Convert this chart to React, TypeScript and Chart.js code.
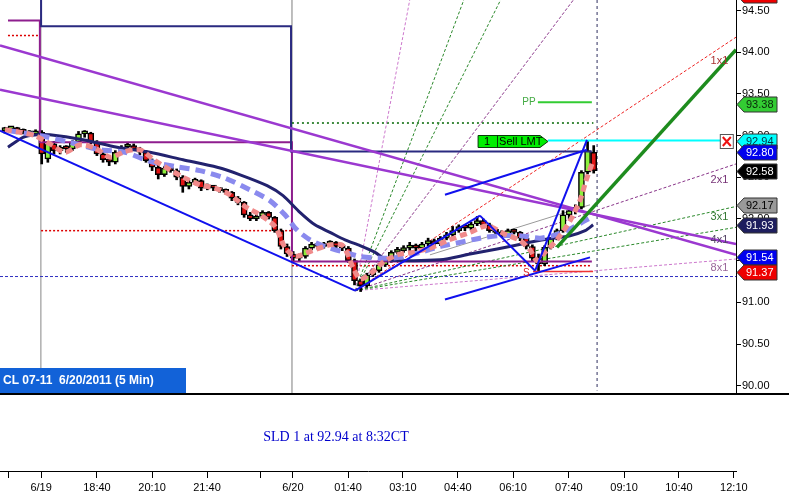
import React, { useEffect, useRef } from 'react';
import { Chart, registerables } from 'chart.js';

Chart.register(...registerables);

// ---------------- data ----------------
const chartTitle = 'CL 07-11  6/20/2011 (5 Min)';
const tradeNote = 'SLD 1 at 92.94 at 8:32CT';

const FIRST_BAR = 1.6;
const BAR_STEP = 2;

const opens = [
  93.06, 93.08, 93.09, 93.06, 93.04, 93.02, 93.04, 92.72, 92.90, 92.82,
  92.86, 92.84, 92.92, 93.02, 93.03, 92.92, 92.78, 92.71, 92.68, 92.80,
  92.86, 92.88, 92.84, 92.80, 92.70, 92.62, 92.53, 92.61, 92.58, 92.50,
  92.39, 92.44, 92.46, 92.37, 92.39, 92.37, 92.34, 92.32, 92.25, 92.20,
  92.05, 92.00, 92.03, 92.08, 92.02, 91.86, 91.67, 91.58, 91.53, 91.55,
  91.65, 91.70, 91.67, 91.70, 91.72, 91.67, 91.65, 91.50, 91.26, 91.20,
  91.33, 91.38, 91.45, 91.50, 91.60, 91.62, 91.65, 91.67, 91.65, 91.70,
  91.74, 91.70, 91.77, 91.81, 91.86, 91.91, 91.89, 91.94, 91.98, 91.93,
  91.86, 91.84, 91.81, 91.86, 91.84, 91.77, 91.67, 91.53, 91.46, 91.66,
  91.77, 91.86, 92.05, 92.10, 92.14, 92.56, 92.80,
];
const highs = [
  93.10, 93.11, 93.10, 93.08, 93.06, 93.07, 93.06, 92.93, 92.93, 92.88,
  92.88, 92.94, 93.05, 93.06, 93.04, 92.94, 92.80, 92.73, 92.82, 92.88,
  92.92, 92.90, 92.86, 92.82, 92.72, 92.66, 92.63, 92.63, 92.60, 92.52,
  92.46, 92.49, 92.47, 92.42, 92.40, 92.38, 92.36, 92.33, 92.27, 92.21,
  92.08, 92.05, 92.10, 92.09, 92.03, 91.88, 91.70, 91.61, 91.58, 91.67,
  91.72, 91.72, 91.72, 91.74, 91.73, 91.70, 91.67, 91.52, 91.28, 91.35,
  91.40, 91.47, 91.53, 91.62, 91.66, 91.68, 91.72, 91.70, 91.72, 91.77,
  91.76, 91.79, 91.84, 91.91, 91.93, 91.93, 91.96, 92.03, 92.00, 91.95,
  91.88, 91.86, 91.88, 91.88, 91.85, 91.79, 91.69, 91.58, 91.68, 91.78,
  91.88, 92.10, 92.14, 92.17, 92.58, 92.94, 92.88,
];
const lows = [
  93.03, 93.05, 93.04, 93.02, 93.00, 93.00, 92.66, 92.68, 92.78, 92.78,
  92.80, 92.82, 92.90, 92.98, 92.90, 92.76, 92.68, 92.64, 92.66, 92.78,
  92.84, 92.82, 92.77, 92.68, 92.58, 92.48, 92.51, 92.56, 92.47, 92.32,
  92.36, 92.42, 92.34, 92.35, 92.34, 92.32, 92.30, 92.22, 92.17, 92.02,
  91.98, 91.98, 92.01, 92.00, 91.84, 91.64, 91.55, 91.50, 91.50, 91.53,
  91.63, 91.64, 91.65, 91.68, 91.65, 91.62, 91.48, 91.21, 91.13, 91.18,
  91.31, 91.36, 91.43, 91.48, 91.58, 91.60, 91.62, 91.62, 91.63, 91.68,
  91.67, 91.68, 91.75, 91.79, 91.84, 91.86, 91.87, 91.92, 91.91, 91.84,
  91.81, 91.79, 91.79, 91.82, 91.74, 91.64, 91.50, 91.38, 91.44, 91.64,
  91.75, 91.84, 92.00, 92.06, 92.12, 92.54, 92.55,
];
const closes = [
  93.08, 93.09, 93.06, 93.04, 93.02, 93.05, 92.78, 92.90, 92.82, 92.86,
  92.84, 92.92, 93.02, 93.03, 92.92, 92.78, 92.71, 92.68, 92.80, 92.86,
  92.88, 92.84, 92.80, 92.70, 92.62, 92.53, 92.61, 92.58, 92.50, 92.39,
  92.44, 92.46, 92.37, 92.39, 92.37, 92.34, 92.32, 92.25, 92.20, 92.05,
  92.00, 92.03, 92.08, 92.02, 91.86, 91.67, 91.58, 91.53, 91.55, 91.65,
  91.70, 91.67, 91.70, 91.72, 91.67, 91.65, 91.50, 91.26, 91.20, 91.33,
  91.38, 91.45, 91.50, 91.60, 91.62, 91.65, 91.67, 91.65, 91.70, 91.74,
  91.70, 91.77, 91.81, 91.86, 91.91, 91.89, 91.94, 91.98, 91.93, 91.86,
  91.84, 91.81, 91.86, 91.84, 91.77, 91.67, 91.53, 91.46, 91.66, 91.77,
  91.86, 92.05, 92.10, 92.14, 92.56, 92.82, 92.58,
];

// moving averages: [bar, price]
const fastMA: [number, number][] = [
  [1.6, 93.07], [6.5, 93.04], [11.4, 93.0], [16.3, 92.9], [21.2, 92.8], [26.1, 92.89],
  [31.0, 92.85], [35.9, 92.74], [40.8, 92.81], [45.7, 92.83], [50.5, 92.7], [55.4, 92.59],
  [60.3, 92.49], [65.2, 92.41], [70.1, 92.37], [75.0, 92.29], [79.9, 92.15], [84.8, 92.05],
  [89.7, 91.91], [92.9, 91.66], [96.2, 91.55], [101.1, 91.61], [107.6, 91.69], [111.8, 91.68],
  [115.1, 91.42], [117.4, 91.28], [120.7, 91.34], [124.9, 91.48], [129.5, 91.57], [134.7, 91.6],
  [140.2, 91.65], [145.8, 91.74], [153.3, 91.84], [158.8, 91.92], [164.0, 91.83], [169.6, 91.74],
  [172.8, 91.63], [175.1, 91.5], [177.7, 91.6], [181.6, 91.75], [185.9, 91.98], [189.1, 92.22],
  [191.1, 92.46], [193.4, 92.7],
];
const midMA: [number, number][] = [
  [2.6, 93.06], [13.0, 93.0], [22.8, 92.92], [32.6, 92.83], [40.8, 92.8], [48.9, 92.69],
  [57.1, 92.63], [65.2, 92.58], [73.4, 92.49], [81.5, 92.35], [88.0, 92.22], [92.9, 92.05],
  [96.8, 91.87], [101.1, 91.75], [106.0, 91.67], [112.5, 91.6], [117.4, 91.55], [123.9, 91.53],
  [130.4, 91.54], [137.0, 91.6], [143.5, 91.67], [150.0, 91.72], [156.5, 91.77], [163.0, 91.8],
  [169.6, 91.8], [176.1, 91.77], [181.0, 91.81], [185.9, 91.88], [190.8, 91.98], [193.4, 92.03],
];
const slowMA: [number, number][] = [
  [2.6, 92.86], [7.5, 92.98], [12.1, 93.01], [16.3, 93.01], [27.1, 92.95], [38.2, 92.86],
  [48.9, 92.8], [59.7, 92.71], [70.8, 92.62], [78.3, 92.53], [87.1, 92.4], [92.3, 92.28],
  [97.8, 92.08], [102.7, 91.93], [107.6, 91.84], [112.5, 91.75], [117.4, 91.68], [122.3, 91.6],
  [126.2, 91.51], [143.5, 91.51], [153.3, 91.58], [162.1, 91.64], [172.8, 91.72], [178.4, 91.76],
  [185.9, 91.8], [190.8, 91.86], [193.4, 91.93],
];

// drawn lines: [bar, price] endpoints
const blueTrends: [number, number][][] = [
  [[0, 93.06], [115.8, 91.14]],
  [[115.8, 91.14], [156.5, 92.04]],
  [[156.5, 92.04], [174.5, 91.38]],
  [[174.5, 91.38], [191.4, 92.95]],
  [[145.1, 92.29], [191.4, 92.83]],
  [[145.1, 91.035], [192.4, 91.54]],
];
const purpleTrends: [number, number][][] = [
  [[0, 94.08], [240, 91.57]],
  [[0, 93.55], [240, 91.7]],
];
const greenTrend: [number, number][] = [[181.6, 91.66], [240, 94.03]];
const grayTrend: [number, number][] = [[140.2, 91.57], [192.4, 92.17]];

const fanOrigin: [number, number] = [115.8, 91.14];
const fanNames = ['1x8', '1x4', '1x3', '1x2', '1x1', '2x1', '3x1', '4x1', '8x1'];
const fanEnds: [number, number][] = [
  [134.5, 94.8], [153.0, 94.8], [165.6, 94.8], [190.5, 94.8],
  [240, 94.18], [240, 92.66], [240, 92.15], [240, 91.9], [240, 91.52],
];
const fanLabelNames = ['1x1', '2x1', '3x1', '4x1', '8x1'];
const fanLabelPrices = [93.89, 92.47, 92.02, 91.75, 91.41];
const FAN_LABEL_BAR = 234.6;

const navyStop: [number, number][] = [
  [0, 94.75], [13.4, 94.75], [13.4, 94.31], [94.9, 94.31], [94.9, 92.81], [193.0, 92.81],
];
const purpleStop: [number, number][] = [
  [2.6, 94.38], [13.0, 94.38], [13.0, 92.92], [95.2, 92.92], [95.2, 91.49], [193.0, 91.49],
];
const redDottedLevels: [number, number][][] = [
  [[2.6, 94.2], [12.4, 94.2]],
  [[13.4, 91.86], [95.2, 91.86]],
  [[95.2, 91.44], [193.0, 91.44]],
];
const greenDottedLevel: [number, number][] = [[95.2, 93.15], [193.5, 93.15]];
const blueDottedLevel: [number, number][] = [[0, 91.31], [240, 91.31]];
const ppLevel: [number, number][] = [[175.4, 93.4], [193.0, 93.4]];
const swingLowLevel: [number, number][] = [[173.8, 91.37], [193.4, 91.37]];
const sellLimitLevel: [number, number][] = [[178.7, 92.94], [234.8, 92.94]];
const sessionBreaks = [13.3, 95.2];
const currentBar = 194.7;

const sellOrder = { qty: '1', label: 'Sell LMT', price: 92.94, fromBar: 155.9, toBar: 178.7, cancelBar: 237.0 };
const ppLabel = { text: 'PP', bar: 172.5, price: 93.4 };
const swingLabel = { text: 'S', bar: 171.6, price: 91.35 };

const tagPrices = [94.68, 93.38, 92.94, 92.8, 92.58, 92.17, 91.93, 91.54, 91.37];

const xTickValues = [2.9, 13.4, 31.6, 49.6, 67.5, 85.1, 95.5, 113.5, 131.4, 149.3, 167.3, 185.5, 203.5, 221.4, 239.3];
const xTickLabels = ['', '6/19', '18:40', '20:10', '21:40', '', '6/20', '01:40', '03:10', '04:40', '06:10', '07:40', '09:10', '10:40', '12:10'];
const yTickValues = [90, 90.5, 91, 91.5, 92, 92.5, 93, 93.5, 94, 94.5];

const X_MIN = 0;
const X_MAX = 240;
const Y_MIN = 88.978;
const Y_MAX = 94.626;
const MAIN_PANEL_PX = 393;

// ---------------- styles ----------------
const tagStyles: [string, string][] = [
  ['#ee0000', '#ffffff'], ['#33cc33', '#0a2a0a'], ['#00ffff', '#003344'], ['#0000ee', '#ffffff'],
  ['#000000', '#ffffff'], ['#999999', '#000000'], ['#1e1e5e', '#ffffff'], ['#0000ee', '#ffffff'],
  ['#ee0000', '#ffffff'],
];
const fanColors: Record<string, string> = {
  '1x8': '#cc77cc', '1x4': '#2a882a', '1x3': '#2a882a', '1x2': '#883388', '1x1': '#ee2222',
  '2x1': '#883388', '3x1': '#2a882a', '4x1': '#2a882a', '8x1': '#cc77cc',
};
const fanLabelColors: Record<string, string> = {
  '1x1': '#aa3333', '2x1': '#773377', '3x1': '#337733', '4x1': '#554466', '8x1': '#996699',
};

const pts = (arr: [number, number][]) => arr.map(([x, y]) => ({ x, y }));
const lineDs = (data: [number, number][], color: string, width: number, dash: number[] = [], tension = 0) => ({
  type: 'line' as const,
  data: pts(data),
  borderColor: color,
  borderWidth: width,
  borderDash: dash,
  pointRadius: 0,
  fill: false,
  tension,
});

const overlayPlugin = {
  id: 'overlay',
  afterDraw(chart: any) {
    const { ctx, chartArea } = chart;
    const xs = chart.scales.x;
    const ys = chart.scales.y;
    const X = (v: number) => xs.getPixelForValue(v);
    const Y = (v: number) => ys.getPixelForValue(v);
    const splitY = chartArea.top + MAIN_PANEL_PX;
    const axisX = Math.round(chartArea.right) + 0.5;
    ctx.save();

    // right axis line (main panel only)
    ctx.strokeStyle = '#000';
    ctx.lineWidth = 1;
    ctx.beginPath();
    ctx.moveTo(axisX, chartArea.top);
    ctx.lineTo(axisX, splitY);
    ctx.stroke();

    // fan labels
    ctx.font = '11px "Liberation Sans", Arial, sans-serif';
    ctx.textAlign = 'center';
    ctx.textBaseline = 'middle';
    fanLabelNames.forEach((n, i) => {
      ctx.fillStyle = fanLabelColors[n];
      ctx.fillText(n, X(FAN_LABEL_BAR), Y(fanLabelPrices[i]));
    });

    // PP label
    ctx.font = '10px "Liberation Sans", Arial, sans-serif';
    ctx.fillStyle = '#44aa44';
    ctx.fillText(ppLabel.text, X(ppLabel.bar), Y(ppLabel.price));
    // S label
    ctx.fillStyle = '#dd2222';
    ctx.fillText(swingLabel.text, X(swingLabel.bar), Y(swingLabel.price));

    // Sell LMT order tag
    {
      const x0 = X(sellOrder.fromBar);
      const x1 = X(sellOrder.toBar);
      const cy = Math.round(Y(sellOrder.price)) + 0.5;
      ctx.beginPath();
      ctx.moveTo(x0, cy - 6);
      ctx.lineTo(x1 - 8, cy - 6);
      ctx.lineTo(x1, cy);
      ctx.lineTo(x1 - 8, cy + 6);
      ctx.lineTo(x0, cy + 6);
      ctx.closePath();
      ctx.fillStyle = '#00ee00';
      ctx.fill();
      ctx.strokeStyle = '#0a3a0a';
      ctx.lineWidth = 1;
      ctx.stroke();
      ctx.beginPath();
      ctx.moveTo(Math.round(x0 + 19) + 0.5, cy - 6);
      ctx.lineTo(Math.round(x0 + 19) + 0.5, cy + 6);
      ctx.stroke();
      ctx.fillStyle = '#000';
      ctx.font = '11px "Liberation Sans", Arial, sans-serif';
      ctx.textAlign = 'center';
      ctx.fillText(sellOrder.qty, x0 + 9, cy + 0.5);
      ctx.textAlign = 'left';
      ctx.fillText(sellOrder.label, x0 + 21, cy + 0.5);

      // cancel box
      const bx = X(sellOrder.cancelBar);
      ctx.fillStyle = '#ffffff';
      ctx.fillRect(bx - 6.5, cy - 7, 13, 14);
      ctx.strokeStyle = '#555';
      ctx.strokeRect(bx - 6.5, cy - 7, 13, 14);
      ctx.strokeStyle = '#ee1111';
      ctx.lineWidth = 2;
      ctx.beginPath();
      ctx.moveTo(bx - 4, cy - 4.5);
      ctx.lineTo(bx + 4, cy + 4.5);
      ctx.moveTo(bx + 4, cy - 4.5);
      ctx.lineTo(bx - 4, cy + 4.5);
      ctx.stroke();
    }

    // price tags on the axis
    ctx.font = '11px "Liberation Sans", Arial, sans-serif';
    ctx.textAlign = 'left';
    ctx.lineWidth = 1;
    tagPrices.forEach((p, i) => {
      const cy = Math.round(Y(p)) + 0.5;
      const tip = axisX + 0.5;
      ctx.beginPath();
      ctx.moveTo(tip, cy);
      ctx.lineTo(tip + 7, cy - 7.5);
      ctx.lineTo(tip + 40, cy - 7.5);
      ctx.lineTo(tip + 40, cy + 7.5);
      ctx.lineTo(tip + 7, cy + 7.5);
      ctx.closePath();
      ctx.fillStyle = tagStyles[i][0];
      ctx.fill();
      ctx.strokeStyle = '#333';
      ctx.stroke();
      ctx.fillStyle = tagStyles[i][1];
      ctx.fillText(p.toFixed(2), tip + 9, cy + 0.5);
    });

    // title box
    ctx.fillStyle = '#1262d8';
    ctx.fillRect(0, splitY - 25, 186, 25);
    ctx.fillStyle = '#ffffff';
    ctx.font = 'bold 12px "Liberation Sans", Arial, sans-serif';
    ctx.textAlign = 'left';
    ctx.fillText(chartTitle, 3, splitY - 12);

    // panel separator
    ctx.strokeStyle = '#000';
    ctx.lineWidth = 2;
    ctx.beginPath();
    ctx.moveTo(0, splitY + 1);
    ctx.lineTo(chart.width, splitY + 1);
    ctx.stroke();

    // lower panel note
    ctx.fillStyle = '#0000cc';
    ctx.font = '14px "Liberation Serif", "Times New Roman", serif';
    ctx.textAlign = 'center';
    ctx.fillText(tradeNote, 336, (splitY + chartArea.bottom) / 2 + 5);

    ctx.restore();
  },
};

export default function App() {
  const ref = useRef<HTMLCanvasElement>(null);

  useEffect(() => {
    if (!ref.current) return;
    Chart.defaults.font.family = '"Liberation Sans", Arial, sans-serif';

    const candleX = opens.map((_, i) => FIRST_BAR + i * BAR_STEP);
    const bodies = {
      type: 'bar' as const,
      data: candleX.map((x, i) => ({ x, y: [opens[i], closes[i]] })),
      backgroundColor: candleX.map((_, i) => (closes[i] >= opens[i] ? '#8cf03c' : '#e01414')),
      borderColor: '#000',
      borderWidth: 1.5,
      borderSkipped: false,
      barThickness: 6,
      minBarLength: 3,
      grouped: false,
    };
    const wicks = {
      type: 'bar' as const,
      data: candleX.map((x, i) => ({ x, y: [lows[i], highs[i]] })),
      backgroundColor: '#000',
      borderWidth: 0,
      barThickness: 2,
      grouped: false,
    };

    const span = Y_MAX - Y_MIN;
    const topMain = Y_MAX;
    const bottomMain = Y_MAX - (MAIN_PANEL_PX * span) / 471;

    const datasets: any[] = [
      ...blueTrends.map((s) => lineDs(s, '#1010ee', 2)),
      lineDs(greenTrend, '#1e8c1e', 3.5),
      lineDs(fastMA, '#f08a8a', 5, [7, 4], 0.25),
      lineDs(midMA, '#8a8aee', 5, [10, 6], 0.25),
      lineDs(slowMA, '#22226e', 3, [], 0.25),
      ...purpleTrends.map((s) => lineDs(s, '#9b38d0', 2.5)),
      lineDs(sellLimitLevel, '#00ffff', 2),
      lineDs(ppLevel, '#33cc33', 2),
      lineDs(swingLowLevel, '#ee3333', 1.5),
      lineDs(navyStop, '#2a2a80', 2),
      lineDs(purpleStop, '#8e1e8e', 2),
      bodies,
      wicks,
      ...fanNames.map((n, i) => lineDs([fanOrigin, fanEnds[i]], fanColors[n], 1, [3, 2])),
      lineDs(grayTrend, '#999999', 1),
      ...redDottedLevels.map((s) => lineDs(s, '#dd0000', 1.5, [2, 2])),
      lineDs(greenDottedLevel, '#006600', 1.5, [2, 3]),
      lineDs(blueDottedLevel, '#3030c0', 1, [3, 2]),
      ...sessionBreaks.map((b) => lineDs([[b, topMain], [b, bottomMain]], '#b4b4b4', 1)),
      lineDs([[currentBar, topMain], [currentBar, bottomMain + 0.03]], '#303060', 1, [3, 3]),
    ];

    const chart = new Chart(ref.current, {
      type: 'bar',
      data: { datasets },
      options: {
        animation: false,
        responsive: false,
        devicePixelRatio: 1,
        events: [],
        layout: { padding: 0 },
        plugins: { legend: { display: false }, tooltip: { enabled: false }, title: { display: false } },
        scales: {
          x: {
            type: 'linear',
            min: X_MIN,
            max: X_MAX,
            offset: false,
            grid: { display: true, drawOnChartArea: false, drawTicks: true, tickLength: 7, color: '#000', offset: false },
            border: { display: true, color: '#000', width: 1 },
            ticks: {
              autoSkip: false,
              maxRotation: 0,
              padding: 3,
              color: '#000',
              font: { size: 11 },
              callback: (_v: any, i: number) => xTickLabels[i],
            },
            afterBuildTicks: (s: any) => {
              s.ticks = xTickValues.map((v) => ({ value: v }));
            },
            afterFit: (s: any) => {
              s.height = 23;
              s.paddingLeft = 0;
              s.paddingRight = 0;
            },
          },
          y: {
            type: 'linear',
            position: 'right',
            min: Y_MIN,
            max: Y_MAX,
            beginAtZero: false,
            grid: { display: true, drawOnChartArea: false, drawTicks: true, tickLength: 5, color: '#000' },
            border: { display: false },
            ticks: {
              autoSkip: false,
              padding: 1,
              color: '#000',
              font: { size: 11 },
              callback: (v: any) => Number(v).toFixed(2),
            },
            afterBuildTicks: (s: any) => {
              s.ticks = yTickValues.map((v) => ({ value: v }));
            },
            afterFit: (s: any) => {
              s.width = 53;
              s.paddingTop = 0;
              s.paddingBottom = 0;
            },
          },
        },
      } as any,
      plugins: [overlayPlugin],
    });
    return () => chart.destroy();
  }, []);

  return (
    <div style={{ position: 'fixed', left: 0, top: 0, width: 789, height: 494, background: '#ffffff' }}>
      <canvas ref={ref} width={789} height={494} style={{ display: 'block' }} />
    </div>
  );
}
